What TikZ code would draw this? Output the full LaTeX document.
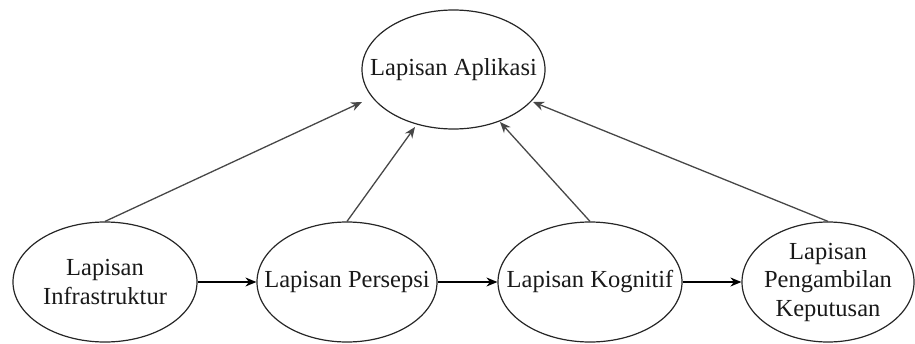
\documentclass[tikz,border=0pt]{standalone}
\usepackage{fontspec}
\setmainfont{Liberation Serif}
\usetikzlibrary{shapes.geometric,arrows.meta}
\begin{document}
\begin{tikzpicture}[x=1pt,y=-1pt,
  layer/.style={draw=black!85, line width=1.2pt, ellipse, inner sep=0pt,
    minimum height=120pt},
  lbl/.style={align=center, inner sep=0pt,
    font=\fontsize{24.5}{28.5}\selectfont, text=black!90},
  flow/.style={-{Stealth[length=11pt,width=9pt]}, line width=1.4pt, draw=black},
  up/.style={-{Stealth[length=11pt,width=9pt]}, line width=1.3pt, draw=black!72}]
\useasboundingbox (0,0) rectangle (915,343);
\node[layer, minimum width=183pt, minimum height=119pt,
  label={[lbl]center:Lapisan Aplikasi}] (app) at (453.5,69.5) {};
\node[layer, minimum width=184pt,
  label={[lbl]center:Lapisan\\Infrastruktur}] (infra) at (105,282) {};
\node[layer, minimum width=180pt,
  label={[lbl]center:Lapisan Persepsi}] (pers) at (347,282) {};
\node[layer, minimum width=184pt,
  label={[lbl]center:Lapisan Kognitif}] (kog) at (590,282) {};
\node[layer, minimum width=172pt,
  label={[lbl]center:Lapisan\\Pengambilan\\Keputusan}] (kep) at (828,282) {};
\coordinate (t1) at (362,102);
\coordinate (t2) at (415,127);
\coordinate (t3) at (500,122);
\coordinate (t4) at (533,102);
\draw[flow] (infra.east) -- (pers.west);
\draw[flow] (pers.east) -- (kog.west);
\draw[flow] (kog.east) -- (kep.west);
\draw[up] (infra.north) -- (t1);
\draw[up] (pers.north) -- (t2);
\draw[up] (kog.north) -- (t3);
\draw[up] (kep.north) -- (t4);
\end{tikzpicture}
\end{document}
